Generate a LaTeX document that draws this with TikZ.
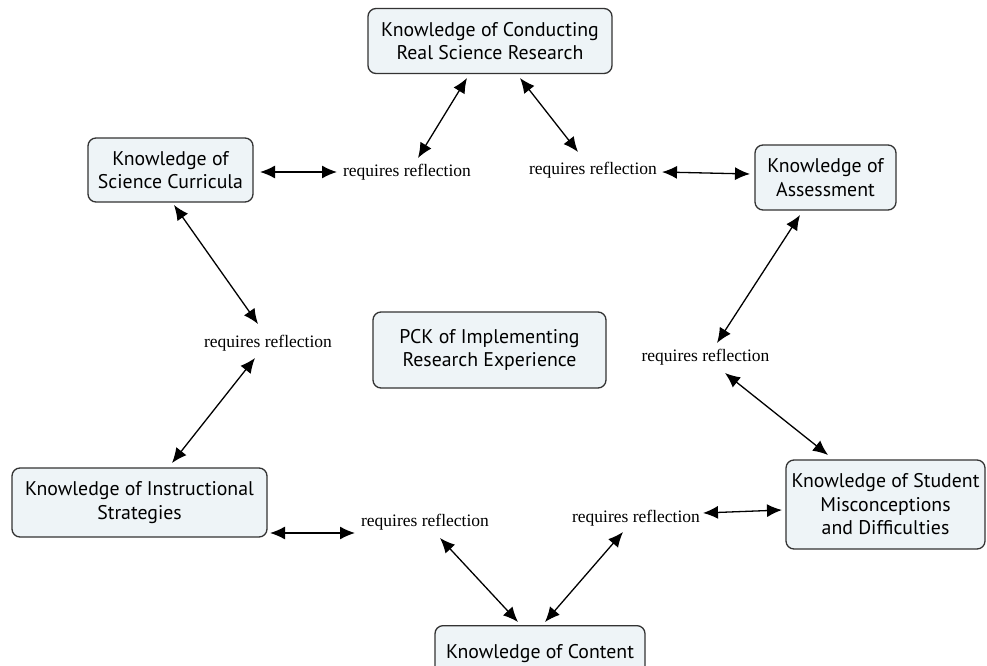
\documentclass[tikz,border=0pt]{standalone}
\usepackage{fontspec}
\setmainfont{Liberation Serif}
\newfontfamily\boxfont{PT Sans}
\usetikzlibrary{arrows.meta,calc}
\definecolor{boxfill}{HTML}{EEF4F7}
\definecolor{boxline}{HTML}{333333}
\begin{document}
\begin{tikzpicture}[x=1pt,y=-1pt,
  kbox/.style={draw=boxline, line width=1.3pt, fill=boxfill, rounded corners=8pt,
    align=center, font=\boxfont\fontsize{19.8}{23.5}\selectfont, inner sep=0pt},
  rlabel/.style={font=\fontsize{17.5}{20}\selectfont, inner sep=0pt},
  dbl/.style={{Latex[length=15pt,width=13pt]}-{Latex[length=15pt,width=13pt]}, line width=1.3pt}]
\useasboundingbox (0,0) rectangle (987,666);
\clip (0,0) rectangle (987,666);
\fill[white] (0,0) rectangle (987,666);
% concept boxes
\node[kbox, minimum width=244pt, minimum height=65pt] (top) at (490,41) {Knowledge of Conducting\\Real Science Research};
\node[kbox, minimum width=165pt, minimum height=64pt] (cur) at (170.5,170) {Knowledge of\\Science Curricula};
\node[kbox, minimum width=141pt, minimum height=65pt] (ass) at (825.5,177.5) {Knowledge of\\Assessment};
\node[kbox, minimum width=233pt, minimum height=76pt] (pck) at (489.5,350) {PCK of Implementing\\Research Experience};
\node[kbox, minimum width=255pt, minimum height=69pt] (ins) at (139.5,502.5) {Knowledge of Instructional\\Strategies};
\node[kbox, minimum width=199pt, minimum height=89pt] (stu) at (885.5,504.5) {Knowledge of Student\\Misconceptions\\and Difficulties};
\node[kbox, minimum width=210pt, minimum height=56pt, anchor=north] (con) at (540,625) {Knowledge of Content};
% labels
\node[rlabel] (l1) at (407,172) {requires reflection};
\node[rlabel] (l2) at (593,170) {requires reflection};
\node[rlabel] (l3) at (268,343) {requires reflection};
\node[rlabel] (l4) at (705.5,357) {requires reflection};
\node[rlabel] (l5) at (425,522) {requires reflection};
\node[rlabel] (l6) at (636,518) {requires reflection};
% connectors
\draw[dbl] ($(top)+(-23,37)$) -- ($(l1)+(11,-14)$);
\draw[dbl] ($(top)+(30,37)$) -- ($(l2)+(-15,-18)$);
\draw[dbl] ($(cur)+(89.5,2)$) -- ($(l1)+(-70,0)$);
\draw[dbl] ($(l2)+(69,2)$) -- ($(ass)+(-75.5,-3.5)$);
\draw[dbl] ($(cur)+(3.5,35)$) -- ($(l3)+(-10,-19)$);
\draw[dbl] ($(l3)+(-13,15)$) -- ($(ins)+(32.5,-39.5)$);
\draw[dbl] ($(ass)+(-25.5,37.5)$) -- ($(l4)+(11.5,-14)$);
\draw[dbl] ($(l4)+(19.5,16)$) -- ($(stu)+(-57.5,-49.5)$);
\draw[dbl] ($(ins)+(130.5,30.5)$) -- ($(l5)+(-70,11)$);
\draw[dbl] ($(l5)+(15,16)$) -- ($(con.north)+(-22,-3)$);
\draw[dbl] ($(con.north)+(5,-3)$) -- ($(l6)+(-13,14)$);
\draw[dbl] ($(l6)+(67,-5)$) -- ($(stu)+(-103.5,5.5)$);
\end{tikzpicture}
\end{document}
